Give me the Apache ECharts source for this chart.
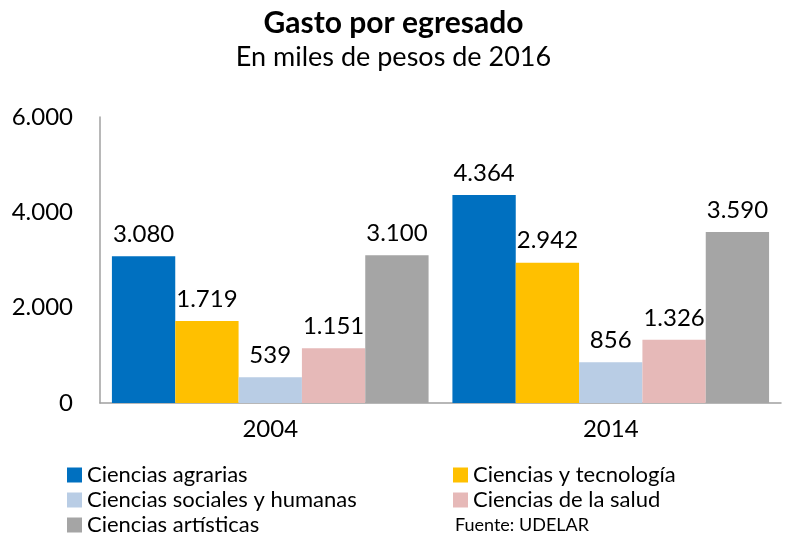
<!DOCTYPE html>
<html>
<head>
<meta charset="utf-8">
<script src="https://cdn.jsdelivr.net/npm/echarts@6/dist/echarts.min.js"></script>
<style>
  html, body { margin: 0; padding: 0; background: #fff; }
  #chart { width: 787px; height: 545px; }
</style>
</head>
<body>
<div id="chart"></div>
<script>
// datos
var years = ['2004', '2014'];
var agrarias = [3080, 4364];
var tecnologia = [1719, 2942];
var sociales = [539, 856];
var salud = [1151, 1326];
var artisticas = [3100, 3590];
var yTicks = [0, 2000, 4000, 6000];

var font = 'Lato, "Open Sans", sans-serif';
var fmt = function (v) {
  return String(v).replace(/\B(?=(\d{3})+(?!\d))/g, '.');
};

function serie (name, data, color) {
  return {
    name: name,
    type: 'bar',
    data: data,
    barGap: 0,
    barCategoryGap: '7%',
    itemStyle: { color: color },
    label: {
      show: true,
      position: 'top',
      distance: 10,
      color: '#000',
      fontSize: 24,
      fontFamily: font,
      formatter: function (p) { return fmt(p.value) }
    }
  }
}

var chart = echarts.init(document.getElementById('chart'));
var legendText = { fontSize: 22, fontFamily: font, color: '#000' };
chart.setOption({
  backgroundColor: '#fff',
  title: {
    text: 'Gasto por egresado',
    subtext: 'En miles de pesos de 2016',
    left: 'center',
    top: 3,
    itemGap: 6,
    textStyle: { fontSize: 30, fontWeight: 'bold', fontFamily: font, color: '#000' },
    subtextStyle: { fontSize: 27, fontFamily: font, color: '#000' }
  },
  grid: { left: 100, right: 6, top: 117, bottom: 142 },
  xAxis: {
    type: 'category',
    data: years,
    axisLine: { lineStyle: { color: '#a0a0a0', width: 1.5 } },
    axisTick: { show: false },
    axisLabel: { fontSize: 24, fontFamily: font, color: '#000', margin: 14 }
  },
  yAxis: {
    type: 'value',
    min: 0,
    max: 6000,
    interval: 2000,
    axisLine: { show: true, lineStyle: { color: '#a0a0a0', width: 1.5 } },
    axisTick: { show: false },
    splitLine: { show: false },
    axisLabel: {
      fontSize: 24, fontFamily: font, color: '#000', margin: 27,
      formatter: function (v) { return yTicks.indexOf(v) >= 0 ? fmt(v) : '' }
    }
  },
  legend: [
    {
      orient: 'vertical', left: 62, top: 459, itemGap: 3,
      itemWidth: 15, itemHeight: 15, icon: 'rect',
      textStyle: legendText,
      data: ['Ciencias agrarias', 'Ciencias sociales y humanas', 'Ciencias artísticas']
    },
    {
      orient: 'vertical', left: 448, top: 459, itemGap: 3,
      itemWidth: 15, itemHeight: 15, icon: 'rect',
      textStyle: legendText,
      data: ['Ciencias y tecnología', 'Ciencias de la salud']
    }
  ],
  graphic: [{
    type: 'text',
    left: 455, top: 516,
    style: { text: 'Fuente: UDELAR', fontSize: 18, fontFamily: font, fill: '#000' }
  }],
  series: [
    serie('Ciencias agrarias', agrarias, '#0070C0'),
    serie('Ciencias y tecnología', tecnologia, '#FFC000'),
    serie('Ciencias sociales y humanas', sociales, '#B9CDE5'),
    serie('Ciencias de la salud', salud, '#E6B9B8'),
    serie('Ciencias artísticas', artisticas, '#A5A5A5')
  ]
});
</script>
</body>
</html>
